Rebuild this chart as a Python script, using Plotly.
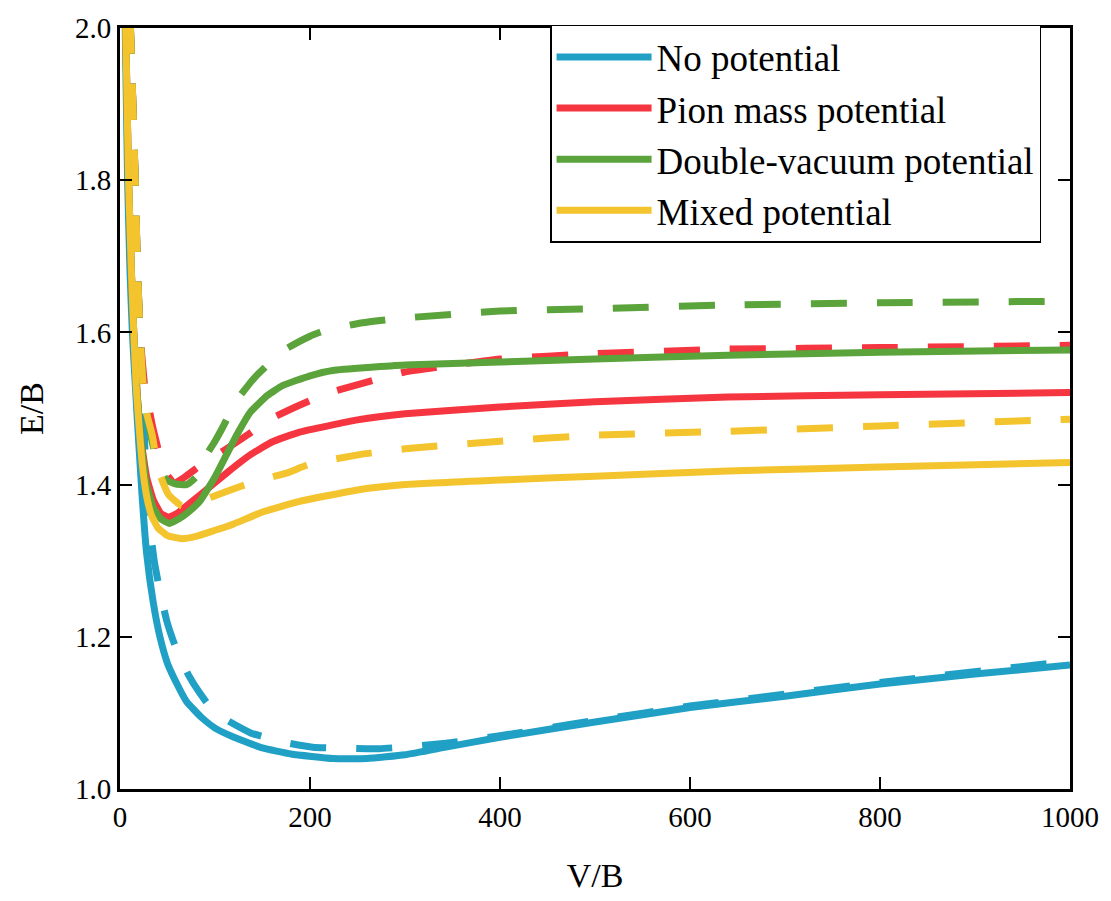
import plotly.graph_objects as go

# ---- data ----
blue_solid_x = [4, 5.5, 8, 10.5, 13, 18, 23, 28, 35, 42, 50, 60, 70, 85, 100, 120, 150, 180, 224, 260, 300, 343, 400, 500, 600, 700, 800, 900, 1000]
blue_solid_y = [2.1, 2.0, 1.8, 1.68, 1.6, 1.49, 1.39, 1.31, 1.245, 1.20, 1.165, 1.138, 1.115, 1.095, 1.08, 1.068, 1.054, 1.046, 1.040, 1.040, 1.045, 1.055, 1.068, 1.088, 1.107, 1.122, 1.138, 1.151, 1.163]

blue_dash_x = [8, 11, 16, 18, 21, 28, 32, 36, 42, 49, 56, 62, 72, 84, 100, 137, 170, 203, 273, 343, 400, 500, 600, 800, 1000]
blue_dash_y = [2.1, 2.0, 1.8, 1.7, 1.6, 1.40, 1.34, 1.30, 1.26, 1.222, 1.195, 1.176, 1.15, 1.126, 1.10, 1.074, 1.062, 1.055, 1.053, 1.06, 1.07, 1.09, 1.109, 1.14, 1.168]

red_solid_x = [4, 6, 9, 12, 14.5, 18, 22, 28, 35, 43, 51, 60, 70, 84, 112, 137, 160, 189, 250, 300, 400, 500, 640, 800, 1000]
red_solid_y = [2.1, 2.0, 1.8, 1.68, 1.6, 1.52, 1.46, 1.41, 1.38, 1.362, 1.357, 1.362, 1.372, 1.386, 1.415, 1.439, 1.456, 1.469, 1.485, 1.493, 1.502, 1.509, 1.515, 1.518, 1.521]

red_dash_x = [8, 11, 16, 18, 21, 26, 34, 42, 50, 57, 66, 90, 112, 135, 158, 190, 221, 284, 300, 400, 500, 640, 800, 1000]
red_dash_y = [2.1, 2.0, 1.8, 1.7, 1.6, 1.53, 1.478, 1.438, 1.412, 1.402, 1.408, 1.43, 1.447, 1.466, 1.486, 1.505, 1.521, 1.543, 1.548, 1.565, 1.572, 1.578, 1.580, 1.583]

green_solid_x = [4, 6, 9, 12, 14.5, 18, 22, 28, 35, 43, 52, 62, 72, 84, 100, 112, 125, 137, 155, 171, 200, 224, 300, 400, 500, 640, 800, 1000]
green_solid_y = [2.1, 2.0, 1.8, 1.68, 1.6, 1.52, 1.46, 1.40, 1.37, 1.355, 1.349, 1.355, 1.364, 1.378, 1.41, 1.439, 1.47, 1.495, 1.517, 1.530, 1.543, 1.550, 1.557, 1.561, 1.565, 1.570, 1.574, 1.577]

green_dash_x = [8, 11, 16, 18, 21, 24, 30, 35, 42, 49, 58, 70, 80, 91, 100, 108, 123, 142, 173, 200, 217, 252, 300, 400, 500, 640, 800, 1000]
green_dash_y = [2.1, 2.0, 1.8, 1.7, 1.6, 1.54, 1.48, 1.45, 1.42, 1.406, 1.401, 1.400, 1.41, 1.439, 1.457, 1.475, 1.511, 1.541, 1.577, 1.595, 1.603, 1.612, 1.619, 1.628, 1.631, 1.636, 1.639, 1.641]

yellow_solid_x = [4, 6, 9, 12, 14.5, 17, 20, 24, 28, 33, 40, 50, 65, 80, 100, 119, 150, 189, 250, 300, 400, 500, 640, 800, 1000]
yellow_solid_y = [2.1, 2.0, 1.8, 1.68, 1.6, 1.53, 1.478, 1.42, 1.385, 1.36, 1.343, 1.333, 1.329, 1.332, 1.34, 1.348, 1.364, 1.378, 1.393, 1.400, 1.406, 1.411, 1.418, 1.423, 1.429]

yellow_dash_x = [8, 11, 16, 18, 21, 26, 34, 40, 51, 65, 84, 112, 144, 175, 200, 255, 300, 400, 500, 640, 800, 1000]
yellow_dash_y = [2.1, 2.0, 1.8, 1.7, 1.6, 1.504, 1.465, 1.42, 1.387, 1.372, 1.378, 1.391, 1.405, 1.415, 1.427, 1.44, 1.447, 1.457, 1.465, 1.470, 1.477, 1.486]

series_names = ["No potential", "Pion mass potential", "Double-vacuum potential", "Mixed potential"]
colors = ["#21A0C6", "#F5353F", "#5BA33B", "#F3C42D"]

x_ticks = [0, 200, 400, 600, 800, 1000]
y_ticks = [1.0, 1.2, 1.4, 1.6, 1.8, 2.0]

FONT = "'Liberation Serif', 'Times New Roman', serif"
LW = 7
DASH = "36px,30px"

fig = go.Figure()
solid = [(blue_solid_x, blue_solid_y), (red_solid_x, red_solid_y), (green_solid_x, green_solid_y), (yellow_solid_x, yellow_solid_y)]
dashed = [(blue_dash_x, blue_dash_y), (red_dash_x, red_dash_y), (green_dash_x, green_dash_y), (yellow_dash_x, yellow_dash_y)]

for i in range(4):
    fig.add_trace(go.Scatter(x=solid[i][0], y=solid[i][1], mode="lines", name=series_names[i],
                             line=dict(color=colors[i], width=LW, shape="spline", smoothing=0.4),
                             showlegend=True))
    fig.add_trace(go.Scatter(x=dashed[i][0], y=dashed[i][1], mode="lines", name=series_names[i] + " (dashed)",
                             line=dict(color=colors[i], width=LW, dash=DASH, shape="spline", smoothing=0.4),
                             showlegend=False))

axis_common = dict(
    showline=True, linecolor="black", linewidth=3, mirror="ticks",
    ticks="inside", ticklen=12, tickwidth=2, tickcolor="black",
    showgrid=False, zeroline=False,
    tickfont=dict(family=FONT, size=29, color="black"),
)

fig.update_layout(
    width=1111, height=901,
    paper_bgcolor="white", plot_bgcolor="white",
    margin=dict(l=120, r=39, t=22, b=111),
    font=dict(family=FONT, color="black"),
    xaxis=dict(range=[0, 1000], tickvals=x_ticks, ticktext=[str(v) for v in x_ticks],
               title=dict(text="V/B", font=dict(family=FONT, size=34), standoff=32), **axis_common),
    yaxis=dict(range=[1.0, 2.0], tickvals=y_ticks, ticktext=[f"{v:.1f}" for v in y_ticks],
               title=dict(text="E/B", font=dict(family=FONT, size=34), standoff=22), **axis_common),
    legend=dict(x=0.4527, y=1.004, xanchor="left", yanchor="top",
                bgcolor="white", bordercolor="black", borderwidth=1.5,
                font=dict(family=FONT, size=37, color="black"),
                itemwidth=95, tracegroupgap=0),
    showlegend=True,
)

fig.write_html("out.html")
